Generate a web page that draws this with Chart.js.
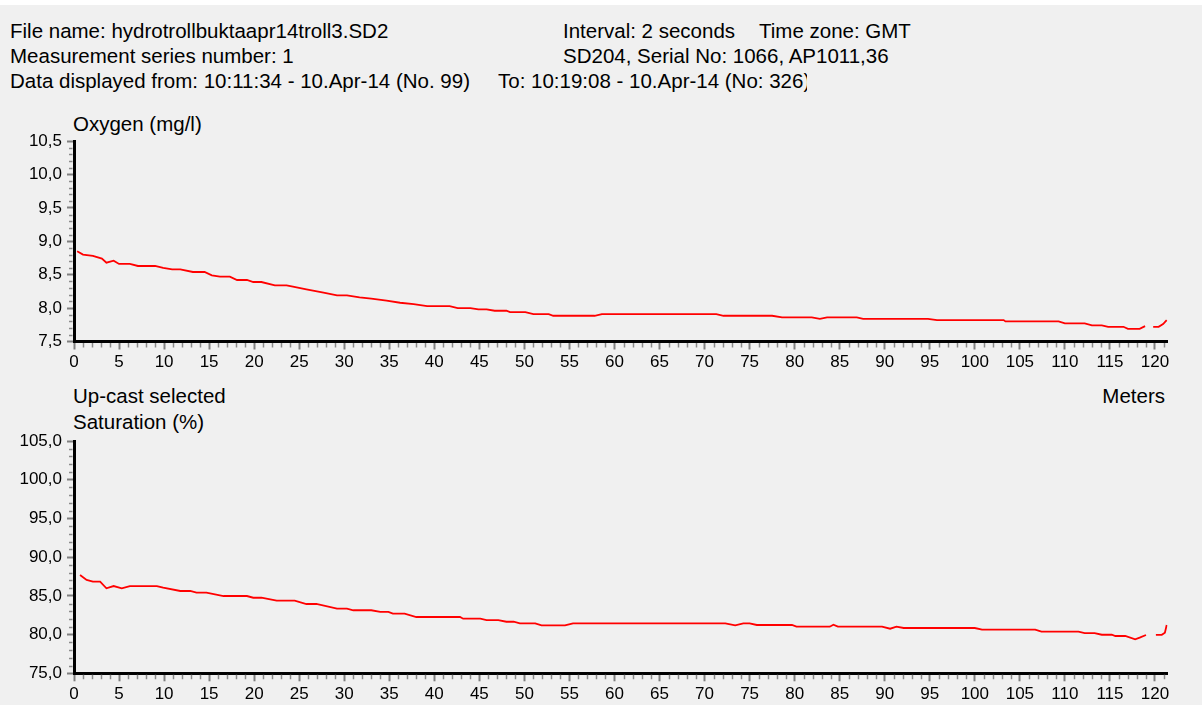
<!DOCTYPE html>
<html>
<head>
<meta charset="utf-8">
<script src="https://cdn.jsdelivr.net/npm/chart.js@4.4.1/dist/chart.umd.min.js"></script>
<style>
  html, body { margin: 0; padding: 0; }
  body {
    width: 1202px; height: 705px; background: #f0f0f0; position: relative; overflow: hidden;
    font-family: "Liberation Sans", Arial, sans-serif; color: #000;
  }
  .band { position: absolute; left: 0; top: 0; width: 1202px; height: 5px; background: #fff; }
  .t { position: absolute; font-size: 20.5px; line-height: 24px; white-space: pre; }
  .clip { overflow: hidden; }
  canvas { position: absolute; left: 0; }
</style>
</head>
<body>
<div class="band"></div>

<div class="t" style="left:10px;top:19px">File name: hydrotrollbuktaapr14troll3.SD2</div>
<div class="t" style="left:10px;top:44px">Measurement series number: 1</div>
<div class="t" style="left:10px;top:69px">Data displayed from: 10:11:34 - 10.Apr-14 (No. 99)</div>
<div class="t clip" style="left:498px;top:69px;width:309px">To: 10:19:08 - 10.Apr-14 (No: 326)</div>
<div class="t" style="left:563px;top:19px">Interval: 2 seconds</div>
<div class="t" style="left:759px;top:19px">Time zone: GMT</div>
<div class="t" style="left:563px;top:44px">SD204, Serial No: 1066, AP1011,36</div>

<div class="t" style="left:73px;top:112px">Oxygen (mg/l)</div>
<div class="t" style="left:73px;top:384px">Up-cast selected</div>
<div class="t" style="left:73px;top:410px">Saturation (%)</div>
<div class="t" style="right:37px;top:384px">Meters</div>

<canvas id="oxygenChart" width="1202" height="252" style="top:120px"></canvas>
<canvas id="saturationChart" width="1202" height="284" style="top:420px"></canvas>

<script>
// Depth axis (meters)
const depthMin = 0;
const depthMax = 121.4;
const depthStep = 5;

// Dissolved oxygen profile, mg/l (null = no reading)
const oxygenDepth = [0.35, 1.0, 2.1, 3.1, 3.6, 4.4, 5.0, 6.2, 7.1, 9.0,
  9.9, 10.9, 11.8, 13.2, 14.5, 15.3, 16.2, 17.3, 18.1, 19.2,
  19.9, 20.8, 22.3, 23.6, 24.3, 25.8, 27.7, 29.2, 30.3, 31.7,
  33.0, 34.7, 36.2, 37.7, 39.2, 41.7, 42.6, 44.0, 44.9, 45.8,
  46.7, 48.0, 48.4, 50.1, 51.0, 52.7, 53.2, 57.8, 58.6, 71.3,
  72.1, 77.5, 78.6, 81.9, 82.8, 83.6, 86.9, 87.6, 94.8, 95.8,
  103.2, 103.4, 109.3, 110.0, 112.2, 113.0, 114.1, 114.8, 116.5, 117.0,
  118.3, 118.9, 119.4, 119.8, 120.4, 120.9, 121.3];
const oxygenValues = [8.85, 8.80, 8.78, 8.74, 8.68, 8.71, 8.66, 8.66, 8.63, 8.63,
  8.60, 8.58, 8.58, 8.54, 8.54, 8.49, 8.47, 8.47, 8.42, 8.42,
  8.39, 8.39, 8.34, 8.34, 8.32, 8.28, 8.23, 8.19, 8.19, 8.16,
  8.14, 8.11, 8.08, 8.06, 8.03, 8.03, 8.00, 8.00, 7.98, 7.98,
  7.96, 7.96, 7.94, 7.94, 7.91, 7.91, 7.885, 7.885, 7.91, 7.91,
  7.885, 7.885, 7.86, 7.86, 7.84, 7.86, 7.86, 7.84, 7.84, 7.82,
  7.82, 7.80, 7.80, 7.77, 7.77, 7.74, 7.74, 7.72, 7.72, 7.69,
  7.69, 7.73, null, 7.72, 7.72, 7.76, 7.82];
const oxygenTicks = { min: 7.5, max: 10.5, step: 0.5, minor: 0.1 };

// Oxygen saturation profile, % (null = no reading)
const saturationDepth = [0.67, 1.4, 2.1, 2.9, 3.6, 4.4, 5.3, 6.2, 9.2, 9.9,
  11.8, 12.9, 13.6, 14.7, 16.6, 19.2, 19.9, 20.8, 22.5, 24.5,
  25.8, 26.9, 29.2, 30.3, 31.0, 33.0, 34.0, 34.9, 35.4, 36.7,
  38.0, 42.85, 43.2, 45.1, 45.8, 47.1, 48.0, 48.8, 49.5, 51.2,
  51.9, 54.5, 55.4, 72.3, 73.4, 74.3, 75.0, 75.8, 79.7, 80.2,
  83.9, 84.3, 84.8, 89.7, 90.6, 91.3, 92.1, 100.0, 100.8, 106.7,
  107.4, 111.5, 112.2, 113.3, 114.1, 115.2, 115.6, 116.7, 117.8, 118.3,
  119.0, 119.55, 120.1, 120.75, 121.1, 121.3];
const saturationValues = [87.7, 87.05, 86.83, 86.83, 85.98, 86.27, 85.98, 86.27, 86.27, 86.05,
  85.63, 85.63, 85.41, 85.41, 84.98, 84.98, 84.76, 84.76, 84.38, 84.38,
  83.95, 83.95, 83.34, 83.34, 83.14, 83.14, 82.92, 82.92, 82.70, 82.70,
  82.27, 82.27, 82.05, 82.05, 81.88, 81.88, 81.66, 81.66, 81.46, 81.46,
  81.20, 81.20, 81.46, 81.46, 81.20, 81.46, 81.46, 81.24, 81.24, 81.02,
  81.02, 81.28, 81.02, 81.02, 80.76, 81.02, 80.85, 80.85, 80.63, 80.63,
  80.37, 80.37, 80.20, 80.20, 79.98, 79.98, 79.82, 79.82, 79.39, 79.6,
  79.95, null, 79.95, 79.98, 80.24, 81.24];
const saturationTicks = { min: 75, max: 105, step: 5, minor: 1 };

const FONT = { family: "'Liberation Sans', Arial, sans-serif", size: 17 };

// Small unlabelled ticks between the labelled ones, placed with the chart's own scales
const minorTicks = {
  id: 'minorTicks',
  afterDraw(chart, args, opts) {
    const { ctx, chartArea: a, scales: { x, y } } = chart;
    ctx.save();
    ctx.strokeStyle = opts.color;
    ctx.lineWidth = opts.width;
    ctx.beginPath();
    const nx = Math.floor((x.max - x.min) / opts.xStep + 1e-6);
    for (let i = 1; i <= nx; i++) {
      if (i % opts.every === 0) continue;
      const px = Math.round(x.getPixelForValue(x.min + i * opts.xStep)) + 0.5;
      ctx.moveTo(px, a.bottom + 1.5);
      ctx.lineTo(px, a.bottom + opts.xLen);
    }
    const ny = Math.round((y.max - y.min) / opts.yStep);
    for (let i = 1; i < ny; i++) {
      if (i % opts.every === 0) continue;
      const py = Math.round(y.getPixelForValue(y.min + i * opts.yStep)) + 0.5;
      ctx.moveTo(a.left - 1.5, py);
      ctx.lineTo(a.left - opts.yLen, py);
    }
    ctx.stroke();
    ctx.restore();
  }
};

function profileChart(id, depth, values, t, xAxisHeight) {
  const points = depth.map((d, i) => ({ x: d, y: values[i] }));
  return new Chart(document.getElementById(id), {
    type: 'line',
    data: {
      datasets: [{
        data: points,
        borderColor: '#ff0000',
        borderWidth: 1.8,
        pointRadius: 0,
        tension: 0,
        spanGaps: false
      }]
    },
    options: {
      responsive: false,
      animation: false,
      devicePixelRatio: 1,
      layout: { padding: { left: 0, right: 34.4, top: 21, bottom: 0 } },
      plugins: {
        legend: { display: false },
        tooltip: { enabled: false },
        minorTicks: { color: '#8a8a8a', width: 1.5, xStep: 1, yStep: t.minor, every: 5, xLen: 6, yLen: 5 }
      },
      scales: {
        x: {
          type: 'linear',
          min: depthMin,
          max: depthMax,
          afterFit(s) { s.height = xAxisHeight; },
          ticks: {
            stepSize: depthStep, includeBounds: false, autoSkip: false, maxRotation: 0,
            padding: 3, color: '#000', font: FONT,
            callback: v => String(v)
          },
          grid: { drawOnChartArea: false, drawTicks: true, tickLength: 8, tickColor: '#808080', tickWidth: 2 },
          border: { display: true, color: '#000', width: 3 }
        },
        y: {
          min: t.min,
          max: t.max,
          afterFit(s) { s.width = 74; },
          ticks: {
            stepSize: t.step, includeBounds: false, padding: 5, color: '#000', font: FONT,
            callback: v => Number(v).toFixed(1).replace('.', ',')
          },
          grid: { drawOnChartArea: false, drawTicks: true, tickLength: 7, tickColor: '#808080', tickWidth: 2 },
          border: { display: true, color: '#000', width: 3 }
        }
      }
    },
    plugins: [minorTicks]
  });
}

profileChart('oxygenChart', oxygenDepth, oxygenValues, oxygenTicks, 30.5);
profileChart('saturationChart', saturationDepth, saturationValues, saturationTicks, 30.7);
</script>
</body>
</html>
